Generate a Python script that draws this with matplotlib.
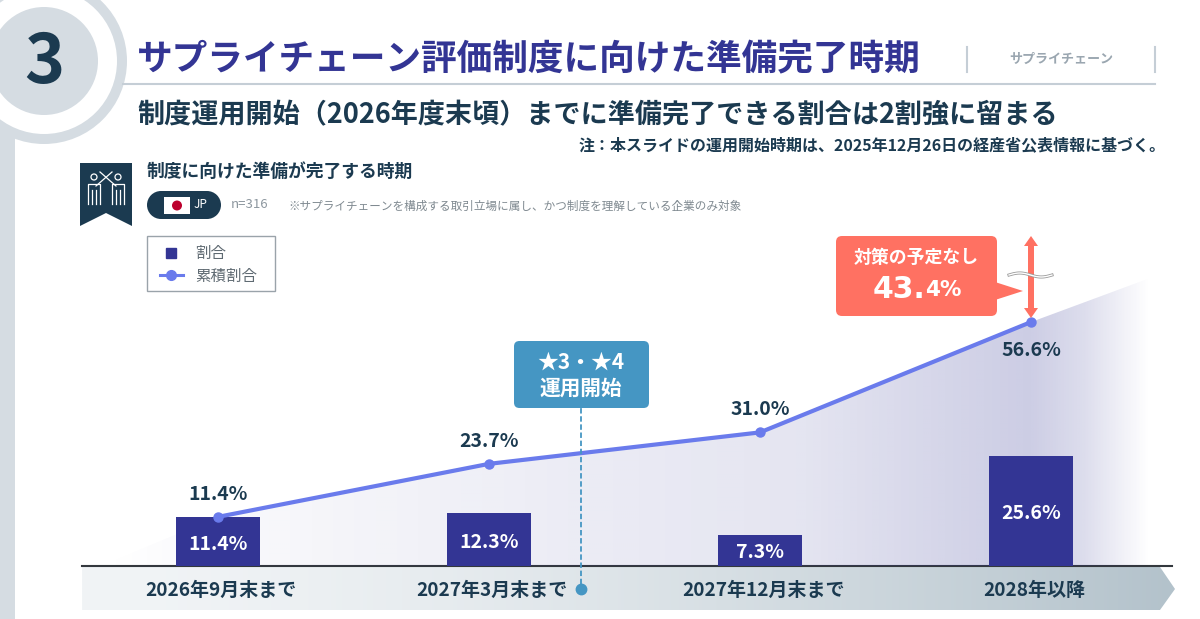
import numpy as np
from matplotlib import pyplot as plt
from matplotlib.colors import to_rgb
from matplotlib.patches import Circle, FancyBboxPatch, Polygon, Rectangle

plt.rcParams['font.family'] = ['Noto Sans CJK JP', 'DejaVu Sans']

categories = ["2026年9月末まで", "2027年3月末まで", "2027年12月末まで", "2028年以降"]
shares = [11.4, 12.3, 7.3, 25.6]
cumulative = [11.4, 23.7, 31.0, 56.6]
share_labels = ["11.4%", "12.3%", "7.3%", "25.6%"]
cumulative_labels = ["11.4%", "23.7%", "31.0%", "56.6%"]

NAVY = "#1b3a50"
INDIGO = "#333594"
LINE = "#6a7bec"
GREY = "#d5dce2"
CORAL = "#ff7162"
BLUE = "#4596c3"

W, H = 1200, 619
fig = plt.figure(figsize=(W / 100, H / 100), dpi=100)

# pixel-space layer for the slide furniture
deco = fig.add_axes([0, 0, 1, 1])
deco.set_xlim(0, W)
deco.set_ylim(H, 0)
deco.axis("off")

# chart layer, category index / percent, lined up with the slide
X0, STEP = 218, 271
Y0, PX_PER_PCT = 566, 4.31
ax = fig.add_axes([0, 0, 1, 1])
ax.set_xlim(-X0 / STEP, (W - X0) / STEP)
ax.set_ylim((Y0 - H) / PX_PER_PCT, Y0 / PX_PER_PCT)
ax.axis("off")
ax.patch.set_alpha(0)


def px_x(px):
    return (px - X0) / STEP


def px_y(py):
    return (Y0 - py) / PX_PER_PCT


# number badge and left rail
deco.add_patch(Rectangle((0, 130), 15, H - 130, color=GREY, lw=0))
deco.add_patch(Circle((44, 61), 83, color=GREY, lw=0))
deco.add_patch(Circle((44, 61), 73, color="white", lw=0))
deco.add_patch(Circle((44, 61), 54, color=GREY, lw=0))
deco.text(44, 63, "3", fontsize=49, fontweight="bold", color=NAVY, ha="center", va="center")

# header
deco.text(137, 60, "サプライチェーン評価制度に向けた準備完了時期", fontsize=25.7, fontweight="bold",
          color=INDIGO, ha="left", va="center")
deco.plot([123, 1155], [84, 84], color="#c5ced6", lw=1.5)
deco.plot([967, 967], [47, 72], color="#c5ced6", lw=1.5)
deco.plot([1155, 1155], [47, 72], color="#c5ced6", lw=1.5)
deco.text(1061, 59, "サプライチェーン", fontsize=9.4, fontweight="bold", color="#9aa6b0",
          ha="center", va="center")
deco.text(137, 115, "制度運用開始（2026年度末頃）までに準備完了できる割合は2割強に留まる",
          fontsize=19.5, fontweight="bold", color=NAVY, ha="left", va="center")
deco.text(1166, 145, "注：本スライドの運用開始時期は、2025年12月26日の経産省公表情報に基づく。",
          fontsize=11.5, fontweight="bold", color=NAVY, ha="right", va="center")

# ribbon icon
deco.add_patch(Polygon([(80, 163), (132, 163), (132, 226), (106, 213), (80, 226)], color=NAVY, lw=0))
for cx, sign in [(94, 1), (118, -1)]:
    deco.add_patch(Circle((cx, 177), 3, fill=False, ec="white", lw=0.9))
    deco.plot([cx - 6, cx - 6, cx + 6, cx + 6], [204, 184, 184, 204], color="white", lw=0.9)
    deco.plot([cx - 2, cx - 2], [190, 204], color="white", lw=0.9)
    deco.plot([cx + 2, cx + 2], [190, 204], color="white", lw=0.9)
    deco.plot([cx + sign * 2, cx + sign * 18], [186, 172], color="white", lw=0.9)

deco.text(147, 172, "制度に向けた準備が完了する時期", fontsize=12.8, fontweight="bold", color=NAVY,
          ha="left", va="center")

# JP pill
deco.add_patch(Rectangle((161, 191), 46, 28, color=NAVY, lw=0))
deco.add_patch(Circle((161, 205), 14, color=NAVY, lw=0))
deco.add_patch(Circle((207, 205), 14, color=NAVY, lw=0))
deco.add_patch(Rectangle((164, 197), 26, 17, color="white", lw=0))
deco.add_patch(Circle((177, 205.5), 5, color="#bc002d", lw=0))
deco.text(200, 205, "JP", fontsize=8.5, color="white", ha="center", va="center")
deco.text(231, 205, "n=316", fontsize=9.5, color="#8d979f", ha="left", va="center")
deco.text(288, 206, "※サプライチェーンを構成する取引立場に属し、かつ制度を理解している企業のみ対象",
          fontsize=8.36, color="#7f8990", ha="left", va="center")

# legend
deco.add_patch(Rectangle((147, 236), 128, 55, fill=False, ec="#9aa3aa", lw=1))
deco.plot([171], [253], marker="s", ms=6.5, color=INDIGO, ls="none")
deco.plot([160, 183], [275, 275], color=LINE, lw=2.2)
deco.plot([171], [275], marker="o", ms=7, color=LINE, ls="none")
deco.text(195, 253, "割合", fontsize=11.2, color="#5f6a72", ha="left", va="center")
deco.text(195, 276, "累積割合", fontsize=11.2, color="#5f6a72", ha="left", va="center")

x = np.arange(len(categories))

# gradient area behind the line
xs = np.linspace(ax.get_xlim()[0], ax.get_xlim()[1], 600)
alpha = np.interp(xs, px_x(np.array([100, 218, 600, 800, 950, 1030, 1085, 1150])),
                  [0, 0.03, 0.10, 0.13, 0.21, 0.25, 0.17, 0])
img = np.ones((1, len(xs), 4))
img[..., :3] = to_rgb("#333694")
img[..., 3] = alpha
im = ax.imshow(img, extent=[xs[0], xs[-1], 0, px_y(270)], aspect="auto", zorder=1,
               interpolation="bilinear")
ax.set_xlim(xs[0], xs[-1])
ax.set_ylim((Y0 - H) / PX_PER_PCT, Y0 / PX_PER_PCT)
area = Polygon([(px_x(100), 0)] + list(zip(x, cumulative)) + [(px_x(1150), px_y(278)), (px_x(1150), 0)],
               closed=True, transform=ax.transData, fc="none", ec="none")
ax.add_patch(area)
im.set_clip_path(area)

# bars, line and labels
ax.bar(x, shares, width=84 / STEP, color=INDIGO, zorder=2)
ax.plot(x, cumulative, color=LINE, lw=3, marker="o", ms=6.5, zorder=3)
for i in range(len(x)):
    ax.text(x[i], shares[i] / 2 - 0.6, share_labels[i],
            fontsize=14, fontweight="bold", color="white", ha="center", va="center", zorder=4)
    offset = -6.5 if i == 3 else 5.2
    ax.text(x[i], cumulative[i] + offset, cumulative_labels[i], fontsize=14, fontweight="bold",
            color=NAVY, ha="center", va="center", zorder=4)

# bottom band with arrow tip
band = np.linspace(0, 1, 400)[None, :, None] ** 1.6
start = np.array(to_rgb("#f1f4f6"))
end = np.array(to_rgb("#b3c2cb"))
band_im = deco.imshow(start + (end - start) * band, extent=[82, 1175, 610, 567], aspect="auto", zorder=1)
deco.set_xlim(0, W)
deco.set_ylim(H, 0)
tip = Polygon([(82, 567), (1160, 567), (1175, 589), (1160, 610), (82, 610)], transform=deco.transData,
              fc="none", ec="none")
deco.add_patch(tip)
band_im.set_clip_path(tip)
deco.plot([82, 1172], [566, 566], color="#33383d", lw=1.5, zorder=2)
for i, name in enumerate(categories):
    ax.text(x[i] + 0.012, px_y(590.5), name, fontsize=13.7, fontweight="bold", color=NAVY,
            ha="center", va="center", zorder=5)

# start-of-operation marker
ax.plot([px_x(581), px_x(581)], [px_y(400), px_y(589)], color=BLUE, lw=1.3, ls=(0, (3, 1.5)), zorder=5)
ax.plot([px_x(581)], [px_y(589)], marker="o", ms=7.5, color=BLUE, zorder=5)
ax.add_patch(FancyBboxPatch((px_x(514), px_y(408)), 135 / STEP, 67 / PX_PER_PCT,
                            boxstyle="round,pad=0,rounding_size=0.02", mutation_aspect=STEP / PX_PER_PCT,
                            color=BLUE, lw=0, zorder=6))
ax.text(px_x(581), px_y(362), "★3・★4", fontsize=15, fontweight="bold", color="white",
        ha="center", va="center", zorder=7)
ax.text(px_x(581), px_y(388), "運用開始", fontsize=14.9, fontweight="bold", color="white",
        ha="center", va="center", zorder=7)

# callout for the remainder
deco2 = fig.add_axes([0, 0, 1, 1])
deco2.set_xlim(0, W)
deco2.set_ylim(H, 0)
deco2.axis("off")
deco2.patch.set_alpha(0)
deco2.add_patch(FancyBboxPatch((836, 236), 161, 80, boxstyle="round,pad=0,rounding_size=6",
                               color=CORAL, lw=0))
deco2.add_patch(Polygon([(995, 282), (1023, 291), (995, 300)], color=CORAL, lw=0))
deco2.text(916, 258, "対策の予定なし", fontsize=12.9, fontweight="bold", color="white", ha="center", va="center")
deco2.text(925, 289, "43.", fontsize=21.5, fontweight="bold", color="white", ha="right", va="center",
           family="DejaVu Sans")
deco2.text(925, 290.5, "4%", fontsize=15.5, fontweight="bold", color="white", ha="left", va="center",
           family="DejaVu Sans")
deco2.add_patch(Polygon([(1031, 236), (1038, 246), (1034, 246), (1034, 308), (1038, 308), (1031, 318),
                         (1024, 308), (1028, 308), (1028, 246), (1024, 246)], color=CORAL, lw=0))
wave_x = np.linspace(1009, 1052, 60)
wave_y = 275 - 2 * np.sin((wave_x - 1009) / 43 * 2 * np.pi)
deco2.plot(wave_x, wave_y, color="#9a9a9a", lw=2.2)
deco2.plot(wave_x, wave_y, color="white", lw=1)

fig.savefig("out.png", dpi=100)
